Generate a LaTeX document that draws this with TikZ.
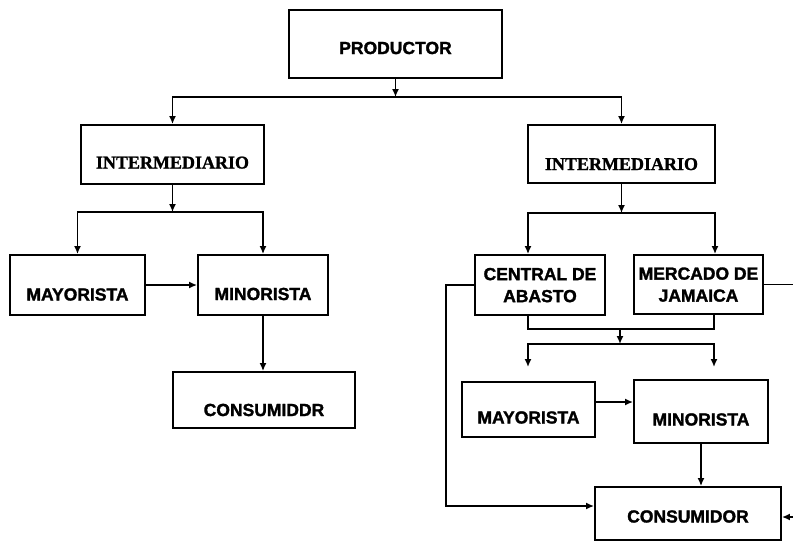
\documentclass[tikz,border=0pt]{standalone}
\usepackage{fontspec}
\usetikzlibrary{arrows.meta}
\newfontfamily\lsans{Liberation Sans Bold}[FakeBold=1.6]
\newfontfamily\lserif{Liberation Serif Bold}[FakeBold=1.2]
\begin{document}
\begin{tikzpicture}[x=1pt,y=-1pt,
  box/.style={draw, line width=1.9pt, inner sep=0pt, text depth=0pt,
    font=\lsans\fontsize{17.5}{22}\selectfont},
  serifbox/.style={box, font=\lserif\fontsize{18}{22}\selectfont},
  wire/.style={line width=1.5pt},
  arr/.style={wire, -{Latex[length=8pt,width=7pt]}}]
\useasboundingbox (0,0) rectangle (793,542);
\fill[white] (0,0) rectangle (793,542);
\clip (0,0) rectangle (793,542);

% level 1
\node[box, minimum width=213pt, minimum height=68pt, text height=20pt] (prod) at (395.5,44) {PRODUCTOR};

% level 2
\node[serifbox, minimum width=183pt, minimum height=59pt, text height=28pt] (intL) at (172.5,154.5) {INTERMEDIARIO};
\node[serifbox, minimum width=187pt, minimum height=58pt, text height=32pt] (intR) at (621.5,154) {INTERMEDIARIO};

% left branch
\node[box, minimum width=135pt, minimum height=60pt, text height=31pt] (mayL) at (77.5,285) {MAYORISTA};
\node[box, minimum width=130pt, minimum height=60pt, text height=30pt] (minL) at (263,285) {MINORISTA};
\node[box, minimum width=182pt, minimum height=56pt, text height=32pt] (consL) at (264,400) {CONSUMIDDR};

% right branch
\node[box, minimum width=130pt, minimum height=60pt, align=center] (cen) at (540,285) {CENTRAL DE\\ABASTO};
\node[box, minimum width=129pt, minimum height=59pt, align=center] (mer) at (698.5,284.5) {MERCADO DE\\JAMAICA};
\node[box, minimum width=133pt, minimum height=55pt, text height=28pt] (mayR) at (528.5,409.5) {MAYORISTA};
\node[box, minimum width=134pt, minimum height=63pt, text height=28pt] (minR) at (701,411.5) {MINORISTA};
\node[box, minimum width=186pt, minimum height=53pt, text height=18pt] (consR) at (688,513.5) {CONSUMIDOR};

% bus levels
\coordinate (b1) at (0,97);
\coordinate (b2) at (0,212);
\coordinate (b3) at (0,213);
\coordinate (m1) at (620,329);
\coordinate (m2) at (620,344);
\coordinate (dA) at (528,367);
\coordinate (dB) at (714,367);

% productor to both intermediaries
\draw[arr] (prod.south) -- (prod.south |- b1);
\draw[arr] (prod.south |- b1) -| (intL.north);
\draw[arr] (prod.south |- b1) -| (intR.north);

% left intermediary
\draw[arr] (intL.south) -- (intL.south |- b2);
\draw[arr] (intL.south |- b2) -| (mayL.north);
\draw[arr] (intL.south |- b2) -| (minL.north);
\draw[arr] (mayL.east) -- (minL.west);
\draw[arr] (minL.south) -- (minL.south |- consL.north);

% right intermediary
\draw[arr] (intR.south) -- (intR.south |- b3);
\draw[arr] (intR.south |- b3) -| ([xshift=-12pt]cen.north);
\draw[arr] (intR.south |- b3) -| ([xshift=16.5pt]mer.north);

% markets merge and feed retail
\draw[wire] ([xshift=-12pt]cen.south) |- (m1) -| ([xshift=15.5pt]mer.south);
\draw[arr] (m1) -- (m2);
\draw[arr] (m2) -| (dA);
\draw[arr] (m2) -| (dB);
\draw[arr] ([yshift=7.5pt]mayR.east) -- ([yshift=7.5pt]mayR.east -| minR.west);
\draw[arr] (minR.south) -- (minR.south |- consR.north);

% direct routes to the consumer
\draw[arr] (cen.west) -- ++(-28,0) |- ([yshift=7.5pt]consR.west);
\draw[arr] (mer.east) -- ++(60,0) |- ([yshift=-3.5pt]consR.east);
\end{tikzpicture}
\end{document}
